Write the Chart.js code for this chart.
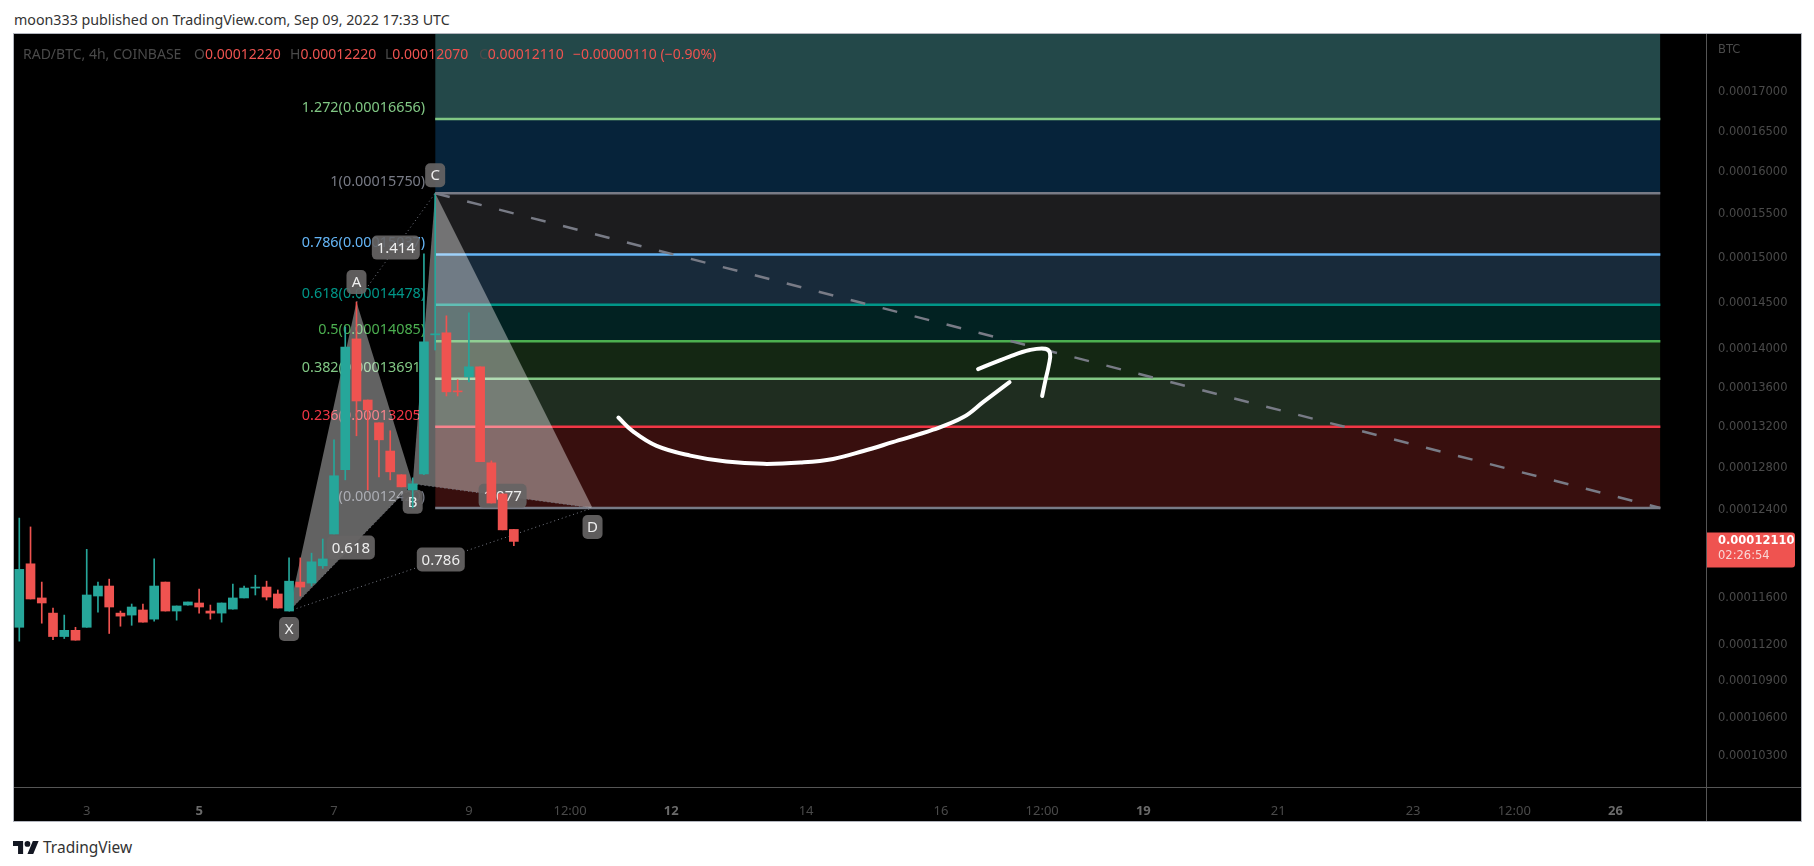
<!DOCTYPE html>
<html>
<head>
<meta charset="utf-8">
<title>RAD/BTC</title>
<script src="https://cdn.jsdelivr.net/npm/chart.js@4/dist/chart.umd.min.js"></script>
<style>
  html, body { margin: 0; background: #fff; font-family: "Noto Sans", sans-serif; }
  #title { position: absolute; left: 14px; top: 10px; font-size: 14.25px; color: #333; white-space: nowrap; }
  #panel { position: absolute; left: 14px; top: 34px; width: 1787px; height: 787px; background: #000; outline: 1px solid #b2b5be; }
  #panel canvas { display: block; }
  .vline { position: absolute; left: 1692px; top: 0; width: 1px; height: 787px; background: #555; }
  .hline { position: absolute; left: 0; top: 753px; width: 1787px; height: 1px; background: #555; }
  .ohlc { position: absolute; top: 10px; font-size: 14px; color: #4a4a4a; white-space: nowrap; }
  .ohlc b { font-weight: normal; color: #ef5350; }
  #brand { position: absolute; left: 13px; top: 836px; display: flex; align-items: center; gap: 4px; font-size: 15.5px; color: #333; }
</style>
</head>
<body>
<div id="title">moon333 published on TradingView.com, Sep 09, 2022 17:33 UTC</div>
<div id="panel">
  <canvas id="grafico" width="1787" height="787"></canvas>
  <div class="vline"></div>
  <div class="hline"></div>
  <span class="ohlc" style="left:9px">RAD/BTC, 4h, COINBASE</span>
  <span class="ohlc" style="left:180px">O<b>0.00012220</b></span>
  <span class="ohlc" style="left:276px">H<b>0.00012220</b></span>
  <span class="ohlc" style="left:371px">L<b>0.00012070</b></span>
  <span class="ohlc" style="left:465px">C<b>0.00012110</b></span>
  <span class="ohlc" style="left:559px"><b>−0.00000110 (−0.90%)</b></span>
</div>
<div id="brand">
  <svg width="26" height="13" viewBox="0 4 36 18"><path fill="#131722" d="M14 22H7V11H0V4h14v18zM28 22h-8l7.5-18h8L28 22z"/><circle fill="#131722" cx="20" cy="8" r="4"/></svg>
  <span>TradingView</span>
</div>

<script>
// prices are in satoshi (1e-8 BTC), x is the 4h candle number
const candleOpen  = [11350,11907,11604,11472,11271,11324,11350,11621,11709,11472,11455,11499,11420,11744,11490,11542,11560,11490,11472,11507,11604,11691,11700,11639,11490,11744,11735,11889,12178,12783,14110,13474,13244,12965,12735,12590,12744,14153,14175,13567,13712,13816,12850,12552,12220];
const candleHigh  = [12325,12243,11744,11516,11455,11350,12038,11744,11770,11490,11551,11551,11951,11744,11534,11569,11682,11542,11560,11726,11709,11805,11752,11674,11960,11960,12003,12132,13075,14239,14508,13474,13244,13165,12735,12705,15046,15750,14358,13681,14390,13816,12869,12552,12220];
const candleLow   = [11232,11595,11385,11245,11254,11240,11350,11481,11297,11359,11367,11394,11402,11490,11411,11542,11472,11420,11394,11507,11604,11630,11586,11516,11490,11621,11709,11866,12178,12686,13115,12590,12715,12686,12619,12420,12735,13992,13515,13515,13660,12860,12466,12216,12070];
const candleClose = [11857,11595,11560,11271,11324,11240,11630,11709,11525,11446,11525,11394,11709,11490,11534,11569,11525,11472,11560,11604,11691,11700,11612,11516,11752,11700,11925,11951,12725,14024,13464,13374,13075,12763,12619,12648,14078,14164,13557,13557,13816,12860,12466,12216,12110];

const fibRatios = ['1.618', '1.272', '1', '0.786', '0.618', '0.5', '0.382', '0.236', '0'];
const fibPrices = [17808, 16656, 15750, 15037, 14478, 14085, 13691, 13205, 12420];
const fibColors = ['#81c784', '#81c784', '#787b86', '#64b5f6', '#009688', '#4caf50', '#81c784', '#f23645', '#787b86'];
const fibFills  = ['#234849', '#06233a', '#1c1c1e', '#182a3a', '#022222', '#142713', '#1f2d20', '#380f0e'];
const fibStart = 37, fibEnd = 146;

const patternNames  = ['X', 'A', 'B', 'C', 'D'];
const patternX      = [24, 30, 35, 37, 51];
const patternPrices = [11490, 14508, 12648, 15750, 12420];

const strokeOneX = [53.3,54.6,56.7,59.7,62.9,66.2,69.5,72.4,75.1,77.7,81.3,84.0,85.8,88.1];
const strokeOneY = [13297,13158,13015,12920,12862,12840,12853,12888,12965,13052,13175,13301,13457,13657];
const strokeTwoX = [85.3,88.1,89.9,91.3,91.7,91.6,91.3,91.0];
const strokeTwoY = [13792,13923,13992,14006,13958,13837,13681,13515];

const yTicks = [17000,16500,16000,15500,15000,14500,14000,13600,13200,12800,12400,11600,11200,10900,10600,10300];
const xTickPos = [6,16,28,40,49,58,70,82,91,100,112,124,133,142];
const xTickLabels = ['3','5','7','9','12:00','12','14','16','12:00','19','21','23','12:00','26'];
const xTickBold = ['5','12','19','26'];

const lastPrice = 12110;
const lastCountdown = '02:26:54';

const VERDE = '#26a69a', VERMELHO = '#ef5350';
const fonte = '"Noto Sans", sans-serif';
const corCandle = candleOpen.map((o, i) => candleClose[i] >= o ? VERDE : VERMELHO);

function pontos(xs, ys) { return xs.map((x, i) => ({ x: x, y: ys[i] })); }
function pt(i) { return { x: patternX[i], y: patternPrices[i] }; }
function negrito(c) { return !!c.tick && xTickBold.includes(c.tick.label); }
function semPadding(s) { s.paddingTop = s.paddingBottom = s.paddingLeft = s.paddingRight = 0; }

function linha(label, order, data, extra) {
    return Object.assign({ type: 'line', label, order, data, pointRadius: 0, borderWidth: 0, borderColor: 'transparent', fill: false, tension: 0 }, extra);
}

const datasets = [];

// fib bands, each one fills down to the next level
fibPrices.forEach((p, i) => {
    datasets.push(linha('band' + i, 200 - i, pontos([fibStart, fibEnd], [p, p]), {
        fill: i < fibFills.length ? '+1' : false,
        backgroundColor: fibFills[i]
    }));
});
fibPrices.forEach((p, i) => {
    datasets.push(linha('fib' + i, 150 - i, pontos([fibStart, fibEnd], [p, p]), { borderColor: fibColors[i], borderWidth: 2.5 }));
});

// harmonic pattern triangles
const cinza = 'rgba(255,255,255,0.385)';
datasets.push(linha('xab', 100, [pt(0), pt(1), pt(2)], { fill: '+1', backgroundColor: cinza }));
datasets.push(linha('xb', 99, [pt(0), pt(2)]));
datasets.push(linha('bcd', 98, [pt(2), pt(3), pt(4)], { fill: '+1', backgroundColor: cinza }));
datasets.push(linha('bd', 97, [pt(2), pt(4)]));

const pontilhado = { borderColor: '#787b86', borderWidth: 1, borderDash: [1, 3] };
datasets.push(linha('dotXB', 90, [pt(0), pt(2)], pontilhado));
datasets.push(linha('dotAC', 89, [pt(1), pt(3)], pontilhado));
datasets.push(linha('dotBD', 88, [pt(2), pt(4)], pontilhado));
datasets.push(linha('dotXD', 87, [pt(0), pt(4)], pontilhado));

// candles
datasets.push({
    type: 'bar', label: 'wicks', order: 21, barThickness: 1, grouped: false,
    data: candleLow.map((l, i) => ({ x: i, y: [l, candleHigh[i]] })),
    backgroundColor: corCandle
});
datasets.push({
    type: 'bar', label: 'bodies', order: 20, barThickness: 9, grouped: false,
    data: candleOpen.map((o, i) => ({ x: i, y: [o, candleClose[i]] })),
    backgroundColor: corCandle
});

// dashed trend line from C and the hand drawn arrow
datasets.push(linha('trend', 10, pontos([fibStart, fibEnd], [15750, 12420]), { borderColor: '#787b86', borderWidth: 2.5, borderDash: [15, 18] }));
const traco = { borderColor: '#fff', borderWidth: 4, tension: 0.4, borderCapStyle: 'round', borderJoinStyle: 'round' };
datasets.push(linha('stroke1', 2, pontos(strokeOneX, strokeOneY), traco));
datasets.push(linha('stroke2', 1, pontos(strokeTwoX, strokeTwoY), traco));

function caixa(ctx, cx, cy, w, h, texto) {
    ctx.fillStyle = 'rgba(102,100,100,0.92)';
    ctx.beginPath();
    ctx.roundRect(cx - w / 2, cy - h / 2, w, h, 5);
    ctx.fill();
    ctx.fillStyle = '#eee';
    ctx.font = '15px ' + fonte;
    ctx.textAlign = 'center';
    ctx.textBaseline = 'middle';
    ctx.fillText(texto, cx, cy + 1);
}

const desenhos = {
    id: 'desenhos',
    afterDatasetDraw(chart, args) {
        const label = chart.data.datasets[args.index].label;
        const { ctx, scales: { x, y } } = chart;
        if (label === 'fib' + (fibPrices.length - 1)) {
            // fib labels sit under the pattern
            ctx.save();
            ctx.font = '14.4px ' + fonte;
            ctx.textAlign = 'right';
            ctx.textBaseline = 'bottom';
            fibPrices.forEach((p, i) => {
                if (i === 0) return;
                ctx.fillStyle = fibColors[i];
                ctx.fillText(fibRatios[i] + '(' + (p / 1e8).toFixed(8) + ')', x.getPixelForValue(fibStart) - 10, y.getPixelForValue(p) - 4);
            });
            ctx.restore();
        }
        if (label === 'dotXD') {
            ctx.save();
            const px = patternX.map(v => x.getPixelForValue(v));
            const py = patternPrices.map(v => y.getPixelForValue(v));
            const meio = (a, b, t) => caixa(ctx, (px[a] + px[b]) / 2, (py[a] + py[b]) / 2, 48, 24, t);
            meio(0, 2, '0.618');
            meio(1, 3, '1.414');
            meio(2, 4, '1.077');
            meio(0, 4, '0.786');
            const desvio = [18, -20, 18, -18, 19];
            patternNames.forEach((n, i) => caixa(ctx, px[i], py[i] + desvio[i], 20, 24, n));
            ctx.restore();
        }
    },
    afterDraw(chart) {
        const { ctx, scales: { y }, chartArea } = chart;
        ctx.save();
        const esq = chartArea.right;
        ctx.font = '11.5px "DejaVu Sans"';
        ctx.fillStyle = '#4a4a4a';
        ctx.textAlign = 'left';
        ctx.textBaseline = 'middle';
        ctx.fillText('BTC', esq + 12, 16);
        const yPreco = y.getPixelForValue(lastPrice);
        ctx.fillStyle = VERMELHO;
        ctx.beginPath();
        ctx.roundRect(esq, yPreco - 9, 89, 35, [0, 3, 3, 0]);
        ctx.fill();
        ctx.fillStyle = '#fff';
        ctx.font = 'bold 11.5px "DejaVu Sans"';
        ctx.fillText((lastPrice / 1e8).toFixed(8), esq + 12, yPreco);
        ctx.fillStyle = '#f8d8d7';
        ctx.font = '11.5px "DejaVu Sans"';
        ctx.fillText(lastCountdown, esq + 12, yPreco + 15);
        ctx.restore();
    }
};

new Chart(document.getElementById('grafico').getContext('2d'), {
    type: 'bar',
    data: { datasets },
    plugins: [desenhos],
    options: {
        responsive: false,
        animation: false,
        events: [],
        layout: { padding: 0 },
        plugins: { legend: { display: false }, tooltip: { enabled: false } },
        scales: {
            x: {
                type: 'linear',
                min: -0.47,
                max: 150.06,
                offset: false,
                grid: { display: false },
                border: { display: false },
                afterFit(s) { s.height = 34; semPadding(s); },
                afterBuildTicks(s) { s.ticks = xTickPos.map(v => ({ value: v })); },
                ticks: {
                    autoSkip: false,
                    maxRotation: 0,
                    padding: 8,
                    callback(v) { return xTickLabels[xTickPos.indexOf(v)]; },
                    color(c) { return negrito(c) ? '#6a6a6a' : '#4a4a4a'; },
                    font(c) { return { family: fonte, size: 13, weight: negrito(c) ? 'bold' : 'normal' }; }
                }
            },
            y: {
                type: 'logarithmic',
                position: 'right',
                min: 10061,
                max: 17761,
                grid: { display: false },
                border: { display: false },
                afterFit(s) { s.width = 95; semPadding(s); },
                afterBuildTicks(s) { s.ticks = yTicks.map(v => ({ value: v })); },
                ticks: {
                    autoSkip: false,
                    padding: 4,
                    color: '#4a4a4a',
                    font: { family: 'DejaVu Sans', size: 11.5 },
                    callback(v) { return (v / 1e8).toFixed(8); }
                }
            }
        }
    }
});
</script>
</body>
</html>
